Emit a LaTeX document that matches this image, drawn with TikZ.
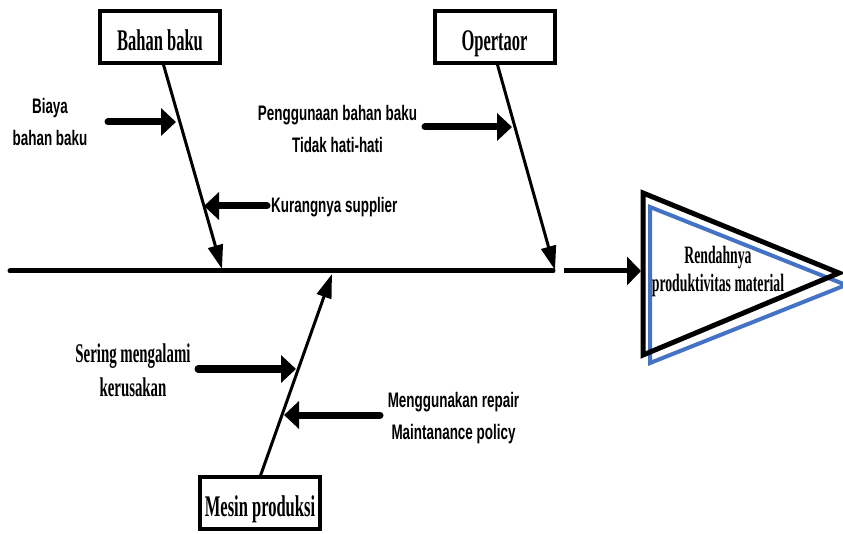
\documentclass[tikz,border=0pt]{standalone}
\usepackage{fontspec}
\usetikzlibrary{arrows.meta}
\newfontfamily\lblfont[FakeStretch=0.64]{Liberation Sans}
\newfontfamily\boxfont[FakeStretch=0.55]{Liberation Serif}
\definecolor{effectblue}{RGB}{68,114,196}
\tikzset{
  catbox/.style={draw, line width=4pt, minimum width=120pt, minimum height=52pt,
    inner sep=0pt, text height=27pt, text depth=0pt,
    font=\boxfont\bfseries\fontsize{30}{30}\selectfont},
  sanslabel/.style={inner sep=0pt, align=center, font=\lblfont\bfseries\fontsize{21}{32.5}\selectfont},
  seriflabel/.style={inner sep=0pt, align=center, font=\boxfont\bfseries\fontsize{27}{34}\selectfont},
  spine/.style={line width=5pt, line cap=round},
  bone/.style={line width=3pt, -{Triangle[length=24pt,width=15pt]}},
  cause/.style={line width=7pt, line cap=round, -{Triangle[length=15pt,width=27pt]}},
  effect/.style={line width=5pt, -{Triangle[length=14pt,width=28pt]}},
}
\begin{document}
\begin{tikzpicture}[x=1pt,y=-1pt]
  \useasboundingbox (0,0) rectangle (843,534);
  \clip (0,0) rectangle (843,534);

  % effect head: offset blue outline behind the black triangle
  \draw[effectblue, line width=4pt, line join=miter] (650,207) -- (650,363) -- (846,285) -- cycle;
  \draw[line width=5pt, line join=miter] (643,193) -- (643,355) -- (839,273) -- cycle;
  \node[inner sep=0pt, align=center, font=\boxfont\bfseries\fontsize{25}{28}\selectfont]
    (effect) at (718,271) {Rendahnya\\produktivitas material};

  % spine and arrow into the head
  \coordinate (sp0) at (10,271);
  \coordinate (sp1) at (553,271);
  \draw[spine] (sp0) -- (sp1);
  \coordinate (ea0) at (564,271);
  \coordinate (ea1) at (641,271);
  \draw[effect] (ea0) -- (ea1);

  % category boxes
  \node[catbox] (bahan) at (160,37.5) {Bahan baku};
  \node[catbox] (oper) at (494.5,37.5) {Opertaor};
  \node[catbox] (mesin) at (260,503) {Mesin produksi};

  % main bones
  \coordinate (b1s) at (163,63);  \coordinate (b1e) at (222,269);
  \coordinate (b2s) at (497,63);  \coordinate (b2e) at (555,270);
  \coordinate (b3s) at (260,477); \coordinate (b3e) at (332,274);
  \draw[bone] (b1s) -- (b1e);
  \draw[bone] (b2s) -- (b2e);
  \draw[bone] (b3s) -- (b3e);

  % cause labels
  \node[sanslabel] (biaya) at (50,122) {Biaya\\bahan baku};
  \node[sanslabel, anchor=west] (kurang) at (271,207) {Kurangnya supplier};
  \node[sanslabel] (guna) at (337.5,129) {Penggunaan bahan baku\\Tidak hati-hati};
  \node[seriflabel] (sering) at (133,370) {Sering mengalami\\kerusakan};
  \node[sanslabel] (repair) at (453.5,418) {Menggunakan repair\\Maintanance policy};

  % cause arrows
  \coordinate (c1s) at (108,122); \coordinate (c1e) at (176,122);
  \coordinate (c2s) at (267,206); \coordinate (c2e) at (204,206);
  \coordinate (c3s) at (425,127); \coordinate (c3e) at (512,127);
  \coordinate (c4s) at (198,369); \coordinate (c4e) at (296,369);
  \coordinate (c5s) at (380,415); \coordinate (c5e) at (284,415);
  \draw[cause] (c1s) -- (c1e);
  \draw[cause] (c2s) -- (c2e);
  \draw[cause] (c3s) -- (c3e);
  \draw[cause] (c4s) -- (c4e);
  \draw[cause] (c5s) -- (c5e);
\end{tikzpicture}
\end{document}
